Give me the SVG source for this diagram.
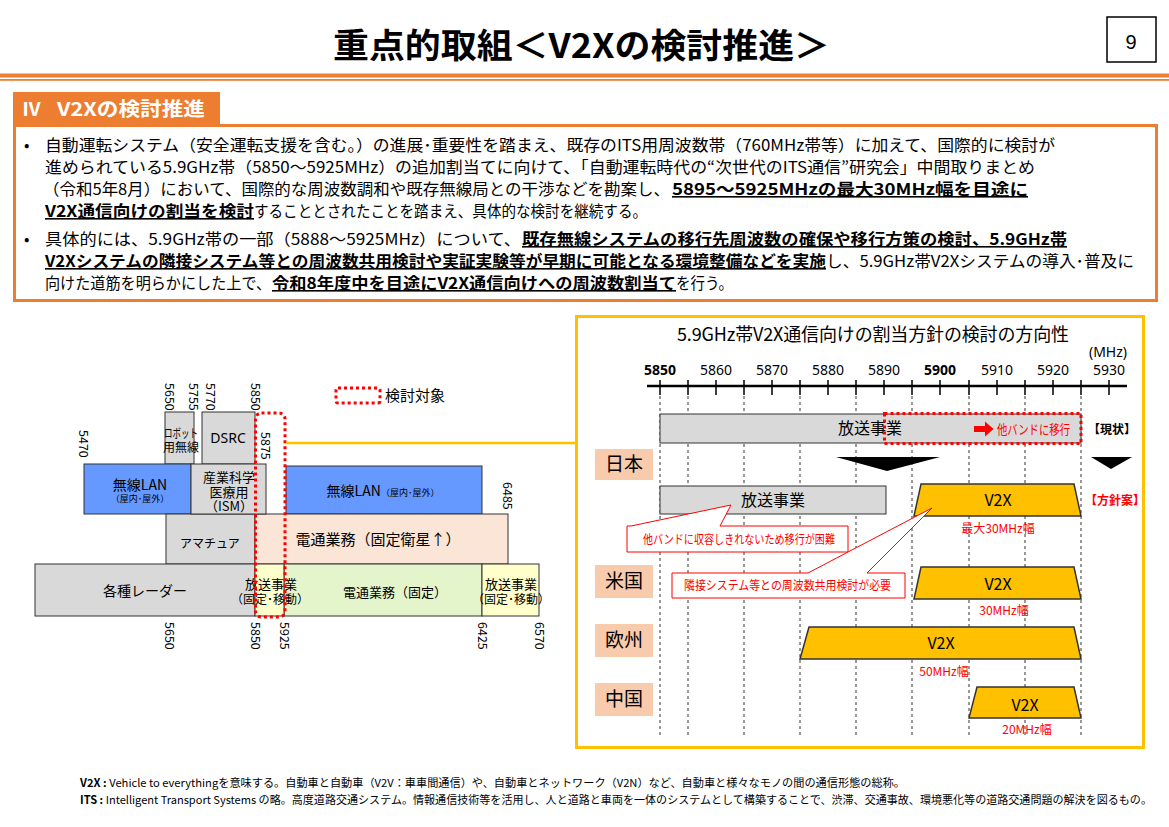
<svg xmlns="http://www.w3.org/2000/svg" width="1169" height="827" viewBox="0 0 1169 827">
<style>
text{font-family:"Noto Sans CJK JP","Noto Sans",sans-serif;fill:#000}
.b{font-weight:bold}
.u{text-decoration:underline}
.body{font-size:16px}
.blk{stroke:#333;stroke-width:1}
.gray{fill:#d9d9d9}
.lan{fill:#6699ff}
.peach{fill:#fbe5d6}
.yel{fill:#ffffcc}
.grn{fill:#e4f5cc}
.lbl{font-size:12.5px;font-family:"Noto Sans","DejaVu Sans",sans-serif}
.t14{font-size:14px}
.t13{font-size:13px}
.t12{font-size:12px}
.c{text-anchor:middle}
.dot{fill:none;stroke:#ff0000;stroke-width:3;stroke-dasharray:3 3}
.dash{stroke:#333;stroke-width:1;stroke-dasharray:3 3}
.v2x{fill:#ffc000;stroke:#333;stroke-width:1.5}
.red{fill:#ff0000}
.cty{fill:#f8cbad}
.ax{font-size:14px;font-family:"Noto Sans","DejaVu Sans",sans-serif;text-anchor:middle}
</style>

<!-- header -->
<g id="header">
<text x="333" y="58" font-size="34" class="b" textLength="497" lengthAdjust="spacingAndGlyphs">重点的取組＜V2Xの検討推進＞</text>
<rect x="1107" y="17" width="49" height="45" fill="#fff" stroke="#000" stroke-width="1.5"/>
<text x="1131" y="49" font-size="20" class="c" style="font-family:'Liberation Sans',sans-serif">9</text>
<rect x="0" y="73.5" width="1169" height="4" fill="#ed7d31"/>
<rect x="0" y="79" width="1169" height="1.8" fill="#ed7d31"/>
</g>

<!-- section box -->
<g id="section">
<rect x="13" y="92" width="207" height="34" fill="#ed7d31"/>
<text x="22" y="116" font-size="19" class="b" style="fill:#fff">Ⅳ</text>
<text x="57" y="116" font-size="19" class="b" style="fill:#fff" textLength="148" lengthAdjust="spacingAndGlyphs">V2Xの検討推進</text>
<rect x="14.5" y="125.5" width="1142" height="175" fill="none" stroke="#ed7d31" stroke-width="3"/>
<g class="body">
<text x="24" y="151">•</text>
<text x="45" y="151" textLength="1010" lengthAdjust="spacingAndGlyphs">自動運転システム（安全運転支援を含む。）の進展･重要性を踏まえ、既存のITS用周波数帯（760MHz帯等）に加えて、国際的に検討が</text>
<text x="45" y="173" textLength="990" lengthAdjust="spacingAndGlyphs">進められている5.9GHz帯（5850～5925MHz）の追加割当てに向けて、「自動運転時代の“次世代のITS通信”研究会」中間取りまとめ</text>
<text x="43" y="195" textLength="627" lengthAdjust="spacingAndGlyphs">（令和5年8月）において、国際的な周波数調和や既存無線局との干渉などを勘案し、</text>
<text x="672" y="195" textLength="356" lengthAdjust="spacingAndGlyphs" class="b u">5895～5925MHzの最大30MHz幅を目途に</text>
<text x="45" y="217" textLength="209" lengthAdjust="spacingAndGlyphs" class="b u">V2X通信向けの割当を検討</text>
<text x="254" y="217" textLength="393" lengthAdjust="spacingAndGlyphs">することとされたことを踏まえ、具体的な検討を継続する。</text>
<text x="24" y="245">•</text>
<text x="45" y="245" textLength="476" lengthAdjust="spacingAndGlyphs">具体的には、5.9GHz帯の一部（5888～5925MHz）について、</text>
<text x="522" y="245" textLength="545" lengthAdjust="spacingAndGlyphs" class="b u">既存無線システムの移行先周波数の確保や移行方策の検討、5.9GHz帯</text>
<text x="45" y="267" textLength="781" lengthAdjust="spacingAndGlyphs" class="b u">V2Xシステムの隣接システム等との周波数共用検討や実証実験等が早期に可能となる環境整備などを実施</text>
<text x="826" y="267" textLength="308" lengthAdjust="spacingAndGlyphs">し、5.9GHz帯V2Xシステムの導入･普及に</text>
<text x="45" y="289" textLength="226" lengthAdjust="spacingAndGlyphs">向けた道筋を明らかにした上で、</text>
<text x="272" y="289" textLength="404" lengthAdjust="spacingAndGlyphs" class="b u">令和8年度中を目途にV2X通信向けへの周波数割当て</text>
<text x="676" y="289" textLength="57" lengthAdjust="spacingAndGlyphs">を行う。</text>
</g>
</g>

<!-- left chart -->
<g id="left-chart">
<g id="blk-dsrc"><rect x="202" y="412" width="53" height="52" class="gray blk"/>
<text x="228" y="443" class="t14 c" style="font-family:'Noto Sans',sans-serif">DSRC</text></g>
<g id="blk-robot"><rect x="165" y="412" width="29" height="52" class="gray blk"/>
<text x="181" y="438" class="t12 c" textLength="34" lengthAdjust="spacingAndGlyphs">ロボット</text><text x="181" y="452" class="t12 c">用無線</text></g>
<g id="blk-lan1"><rect x="84" y="464" width="107" height="50" class="lan blk"/>
<text x="140" y="490" class="t14 c">無線LAN</text><text x="140" y="502" font-size="9" class="c">（屋内･屋外）</text></g>
<g id="blk-lan2"><rect x="286" y="466" width="196" height="48" class="lan blk"/>
<text x="383" y="496" class="c"><tspan font-size="14">無線LAN</tspan><tspan font-size="9">（屋内･屋外）</tspan></text></g>
<g id="blk-amateur"><rect x="166" y="514" width="89" height="50" class="gray blk"/>
<text x="210" y="548" font-size="12" class="c">アマチュア</text></g>
<g id="blk-fss"><rect x="255" y="514" width="253" height="50" class="peach blk"/>
<text x="378" y="545" font-size="15" class="c">電通業務（固定衛星↑）</text></g>
<g id="blk-ism"><rect x="191" y="464" width="75" height="50" class="gray blk"/>
<text x="229" y="482" class="t13 c">産業科学</text><text x="229" y="497" class="t13 c">医療用</text><text x="229" y="511" class="t13 c">（ISM）</text></g>
<g id="blk-radar"><rect x="35" y="564" width="220" height="52" class="gray blk"/>
<text x="145" y="596" class="t14 c">各種レーダー</text></g>
<g id="blk-fixed"><rect x="284" y="564" width="198" height="52" class="grn blk"/>
<text x="395" y="597" class="t13 c">電通業務（固定）</text></g>
<g id="blk-bc1"><rect x="255" y="564" width="29" height="52" class="yel blk"/>
<text x="271" y="589" class="t13 c">放送事業</text><text x="270" y="604" class="t12 c">（固定･移動）</text></g>
<g id="blk-bc2"><rect x="482" y="564" width="57" height="52" class="yel blk"/>
<text x="511" y="589" class="t13 c">放送事業</text><text x="511" y="604" class="t12 c">（固定･移動）</text></g>
<g id="freq-labels" class="lbl">
<text transform="translate(165,383) rotate(90)">5650</text>
<text transform="translate(189,383) rotate(90)">5755</text>
<text transform="translate(206,383) rotate(90)">5770</text>
<text transform="translate(251,383) rotate(90)">5850</text>
<text transform="translate(79,430) rotate(90)">5470</text>
<text transform="translate(261,432) rotate(90)">5875</text>
<text transform="translate(503,482) rotate(90)">6485</text>
<text transform="translate(165,622) rotate(90)">5650</text>
<text transform="translate(251,622) rotate(90)">5850</text>
<text transform="translate(280,622) rotate(90)">5925</text>
<text transform="translate(478,622) rotate(90)">6425</text>
<text transform="translate(535,622) rotate(90)">6570</text>
</g>
<rect x="255.5" y="413" width="29.5" height="204" rx="6" class="dot"/>
<g id="legend">
<rect x="336" y="388" width="44" height="15" rx="2" class="dot"/>
<text x="385" y="401" font-size="15">検討対象</text>
</g>
</g>

<!-- connectors -->
<g id="connectors">
<line x1="286" y1="443" x2="576" y2="443" stroke="#ffc000" stroke-width="2.5"/>
</g>

<!-- right panel -->
<g id="right-panel">
<rect x="576.5" y="316.5" width="567" height="431" fill="#fff" stroke="#ffc000" stroke-width="3"/>
<text x="677" y="341" font-size="18" textLength="392">5.9GHz帯V2X通信向けの割当方針の検討の方向性</text>
<text x="1108" y="357" class="ax">(MHz)</text>
<g id="axis">
<line x1="647" y1="386" x2="1127" y2="386" stroke="#000" stroke-width="2.5"/>
<path d="M660,380V395M688,380V395M716,380V395M744,380V395M772,380V395M800,380V395M828,380V395M856,380V395M884,380V395M912,380V395M940,380V395M969,380V395M997,380V395M1025,380V395M1053,380V395M1081,380V395M1109,380V395" stroke="#000" stroke-width="1.5"/>
<text x="660" y="375" class="ax b">5850</text>
<text x="716" y="375" class="ax">5860</text>
<text x="772" y="375" class="ax">5870</text>
<text x="828" y="375" class="ax">5880</text>
<text x="884" y="375" class="ax">5890</text>
<text x="940" y="375" class="ax b">5900</text>
<text x="997" y="375" class="ax">5910</text>
<text x="1053" y="375" class="ax">5920</text>
<text x="1109" y="375" class="ax">5930</text>
</g>
<path class="dash" d="M660,396V737M688,396V737M744,396V737M800,396V737M856,396V737M912,396V737M969,396V737M1025,396V737M1081,396V737"/>

<g id="row-current">
<rect x="660" y="414" width="421" height="29" class="gray blk" stroke="#444"/>
<text x="870" y="434" font-size="16" class="c">放送事業</text>
<rect x="884.5" y="413.5" width="196.5" height="30" class="dot" stroke-width="2.5"/>
<polygon points="974,426 985,426 985,421.5 993.5,429 985,436.5 985,432 974,432" class="red"/>
<text x="997" y="434" font-size="13" style="fill:#ff0000" textLength="73" lengthAdjust="spacingAndGlyphs">他バンドに移行</text>
<text x="1088" y="434" font-size="12" class="b">【現状】</text>
</g>

<g id="arrows">
<polygon points="836,457 940,457 887,471" fill="#000"/>
<polygon points="1091,457 1132,457 1111,469" fill="#000"/>
</g>

<g id="label-japan"><rect x="595" y="449" width="58" height="31" class="cty"/><text x="624" y="471" font-size="19" class="c">日本</text></g>
<g id="label-us"><rect x="595" y="565" width="58" height="33" class="cty"/><text x="624" y="588" font-size="19" class="c">米国</text></g>
<g id="label-eu"><rect x="595" y="624" width="58" height="33" class="cty"/><text x="624" y="647" font-size="19" class="c">欧州</text></g>
<g id="label-cn"><rect x="595" y="683" width="58" height="33" class="cty"/><text x="624" y="706" font-size="19" class="c">中国</text></g>

<g id="row-japan">
<rect x="660" y="486" width="226" height="28" class="gray blk" stroke="#444"/>
<text x="773" y="506" font-size="16" class="c">放送事業</text>
<polygon points="921,484 1074,484 1081,516 914,516" class="v2x"/>
<text x="998" y="506" font-size="16" class="c">V2X</text>
<text x="998" y="533" font-size="12" class="c" style="fill:#ff0000">最大30MHz幅</text>
<text x="1085" y="505" font-size="12" class="b" style="fill:#ff0000">【方針案】</text>
</g>

<g id="row-us">
<polygon points="921,567 1074,567 1081,599 914,599" class="v2x"/>
<text x="998" y="590" font-size="16" class="c">V2X</text>
<text x="1004" y="615" font-size="12" class="c" style="fill:#ff0000">30MHz幅</text>
</g>

<g id="row-eu">
<polygon points="809,627 1074,627 1081,659 800,659" class="v2x"/>
<text x="941" y="649" font-size="16" class="c">V2X</text>
<text x="944" y="676" font-size="12" class="c" style="fill:#ff0000">50MHz幅</text>
</g>

<g id="row-cn">
<polygon points="977,687 1074,687 1081,718 969,718" class="v2x"/>
<text x="1025" y="711" font-size="16" class="c">V2X</text>
<text x="1027" y="734" font-size="12" class="c" style="fill:#ff0000">20MHz幅</text>
</g>

<g id="callout-1">
<path d="M627,526 L631,526 L731,505 L720,526 L848,526 L848,552 L627,552 Z" fill="#fff" stroke="#ff0000" stroke-width="1"/>
<text x="643" y="544" font-size="12.5" style="fill:#ff0000" textLength="192" lengthAdjust="spacingAndGlyphs">他バンドに収容しきれないため移行が困難</text>
</g>
<g id="callout-2">
<path d="M672,573 L808,573 L932,508 L867,573 L905,573 L905,598 L672,598 Z" fill="#fff" stroke="#ff0000" stroke-width="1"/>
<text x="684" y="590" font-size="12.5" style="fill:#ff0000" textLength="207" lengthAdjust="spacingAndGlyphs">隣接システム等との周波数共用検討が必要</text>
</g>
</g>

<!-- footnotes -->
<g id="footnotes" font-size="11">
<text x="80" y="787" textLength="825" lengthAdjust="spacingAndGlyphs"><tspan class="b">V2X : </tspan>Vehicle to everythingを意味する。自動車と自動車（V2V：車車間通信）や、自動車とネットワーク（V2N）など、自動車と様々なモノの間の通信形態の総称。</text>
<text x="80" y="804" textLength="1072" lengthAdjust="spacingAndGlyphs"><tspan class="b">ITS : </tspan>Intelligent Transport Systems の略。高度道路交通システム。情報通信技術等を活用し、人と道路と車両を一体のシステムとして構築することで、渋滞、交通事故、環境悪化等の道路交通問題の解決を図るもの。</text>
</g>
</svg>
